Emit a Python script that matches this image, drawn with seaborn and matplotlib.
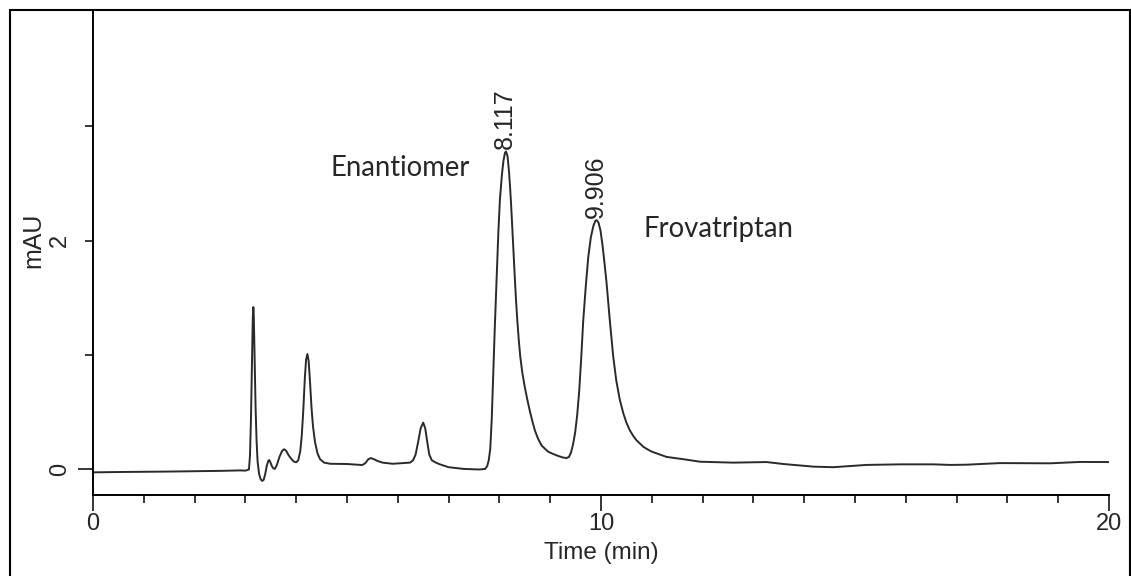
import numpy as np
import pandas as pd
import seaborn as sns
import matplotlib
matplotlib.use('Agg')
import matplotlib.pyplot as plt
from matplotlib.patches import Rectangle

# chromatogram trace (time in min, signal in mAU)
time_min = [0.0, 0.5, 1.0, 1.5, 2.0, 2.5, 2.9, 3.0, 3.07,
            3.09, 3.11, 3.13, 3.145, 3.156, 3.165, 3.18, 3.20, 3.22, 3.24,
            3.27, 3.30, 3.33, 3.36, 3.39, 3.42, 3.45, 3.47, 3.49, 3.52, 3.55,
            3.58, 3.62, 3.67, 3.72, 3.76, 3.80, 3.85, 3.90, 3.95, 4.0, 4.04,
            4.08, 4.11, 4.14, 4.17, 4.195, 4.22, 4.245, 4.27, 4.30, 4.33, 4.37,
            4.42, 4.47, 4.55, 4.67, 5.0, 5.3, 5.36, 5.42, 5.47, 5.53, 5.6, 5.7,
            5.9, 6.24, 6.30, 6.35, 6.40, 6.45, 6.50, 6.54, 6.58, 6.62, 6.67,
            6.75, 6.83, 7.0, 7.3, 7.6,
            7.72, 7.76, 7.79, 7.82, 7.85, 7.88, 7.91, 7.95, 7.98, 8.01, 8.05,
            8.08, 8.11, 8.13, 8.16, 8.19, 8.21, 8.23, 8.25, 8.27, 8.29, 8.31,
            8.33, 8.35, 8.38, 8.41, 8.45, 8.5, 8.55, 8.6, 8.65, 8.7, 8.76,
            8.83, 8.9, 8.96, 9.06, 9.16,
            9.25, 9.32, 9.37, 9.41, 9.45, 9.49, 9.53, 9.57, 9.61, 9.65, 9.70,
            9.75, 9.80, 9.85, 9.89, 9.915, 9.95, 9.99, 10.03, 10.07, 10.11,
            10.17, 10.24, 10.30, 10.37, 10.44, 10.5, 10.57, 10.64, 10.7, 10.77,
            10.83, 10.9, 11.0, 11.29, 11.62, 11.95, 12.6,
            13.26, 13.59, 14.18, 14.57, 15.23, 15.89, 16.54, 16.87, 17.2,
            17.85, 18.84, 19.43, 20.0]
signal_mau = [-0.025, -0.022, -0.02, -0.018, -0.015, -0.012, -0.008, -0.01, 0.0,
              0.12, 0.45, 0.95, 1.32, 1.42, 1.35, 1.02, 0.55, 0.25, 0.07,
              -0.04, -0.085, -0.10, -0.09, -0.04, 0.03, 0.075, 0.083, 0.065, 0.03, 0.01,
              0.005, 0.04, 0.11, 0.16, 0.177, 0.165, 0.125, 0.095, 0.07, 0.063, 0.08,
              0.16, 0.30, 0.52, 0.80, 0.96, 1.01, 0.95, 0.78, 0.55, 0.38, 0.24,
              0.14, 0.09, 0.06, 0.05, 0.048, 0.039, 0.055, 0.09, 0.10, 0.09, 0.075, 0.06,
              0.05, 0.06, 0.08, 0.13, 0.24, 0.36, 0.41, 0.36, 0.24, 0.13, 0.08,
              0.06, 0.045, 0.02, 0.005, 0.0,
              0.005, 0.03, 0.08, 0.18, 0.45, 0.84, 1.25, 1.72, 2.08, 2.36, 2.58,
              2.70, 2.77, 2.78, 2.74, 2.60, 2.47, 2.32, 2.15, 1.97, 1.79, 1.62,
              1.46, 1.32, 1.14, 0.99, 0.85, 0.72, 0.61, 0.51, 0.42, 0.34, 0.27,
              0.21, 0.18, 0.156, 0.135, 0.118,
              0.105, 0.10, 0.11, 0.15, 0.22, 0.32, 0.47, 0.68, 0.97, 1.30, 1.60,
              1.86, 2.03, 2.13, 2.175, 2.18, 2.16, 2.09, 1.96, 1.80, 1.63,
              1.32, 0.99, 0.78, 0.61, 0.49, 0.41, 0.34, 0.29, 0.255, 0.225,
              0.20, 0.18, 0.156, 0.11, 0.09, 0.068, 0.06,
              0.065, 0.048, 0.025, 0.02, 0.04, 0.045, 0.045, 0.04, 0.042,
              0.056, 0.054, 0.066, 0.065]

peak_rt = [8.117, 9.906]
peak_top = [2.78, 2.18]
peak_labels = ['8.117', '9.906']

compound_names = ['Enantiomer', 'Frovatriptan']
compound_x = [4.67, 10.83]
compound_y = [2.57, 2.03]

df = pd.DataFrame({'time': time_min, 'mau': signal_mau})

sns.set_style('ticks')
plt.rcParams['font.family'] = ['Liberation Sans', 'DejaVu Sans']

fig = plt.figure(figsize=(11.31, 5.76), dpi=100)
ax = fig.add_axes([93 / 1131, 1 - 495 / 576, 1016 / 1131, 483 / 576])

sns.lineplot(data=df, x='time', y='mau', ax=ax, color='#2a2a2a', linewidth=1.4)

ax.set_xlim(0, 20)
ax.set_ylim(-0.223, 4.0)
sns.despine(ax=ax)
for s in ['left', 'bottom']:
    ax.spines[s].set_linewidth(1.4)
    ax.spines[s].set_color('black')

# x ticks: long at 0/10/20, short every minute
ax.set_xticks([0, 10, 20])
ax.set_xticklabels(['0', '10', '20'])
ax.set_xticks(np.arange(0, 21, 1), minor=True)
ax.tick_params(axis='x', which='major', length=11.5, width=1.1, pad=1.5, labelsize=17, color='black')
ax.tick_params(axis='x', which='minor', length=5.8, width=1.1, color='black')

# y ticks: long at 0, short at 1..3, labels 0 and 2 rotated
ax.set_yticks([0])
ax.set_yticklabels(['0'])
ax.set_yticks([1, 2, 3], minor=True)
ax.set_yticklabels(['', '2', ''], minor=True)
ax.tick_params(axis='y', which='major', length=11, width=1.1, pad=5, labelsize=17, labelrotation=90, color='black')
ax.tick_params(axis='y', which='minor', length=5.8, width=1.1, pad=9.9, labelsize=17, labelrotation=90, color='black')
for lab in ax.get_yticklabels() + ax.get_yticklabels(minor=True):
    lab.set_va('center')

ax.set_xlabel('Time (min)', fontsize=17.5, labelpad=5)
ax.set_ylabel('mAU', fontsize=18)
ax.yaxis.set_label_coords(-0.047, 0.528)

# retention time labels above the two main peaks
for rt, top, lab in zip(peak_rt, peak_top, peak_labels):
    ax.text(rt, top + 0.02, lab, rotation=90, ha='center', va='bottom', fontsize=18)

for name, x, y in zip(compound_names, compound_x, compound_y):
    ax.text(x, y, name, ha='left', va='baseline', fontsize=19.8, family=['Lato', 'DejaVu Sans'])

# frame around the whole figure
fig.add_artist(Rectangle((10 / 1131, -0.05), 1120 / 1131, 1.05 - 10 / 576,
                         transform=fig.transFigure, fill=False, lw=1.5, edgecolor='black'))

fig.savefig('out.png', dpi=100)
